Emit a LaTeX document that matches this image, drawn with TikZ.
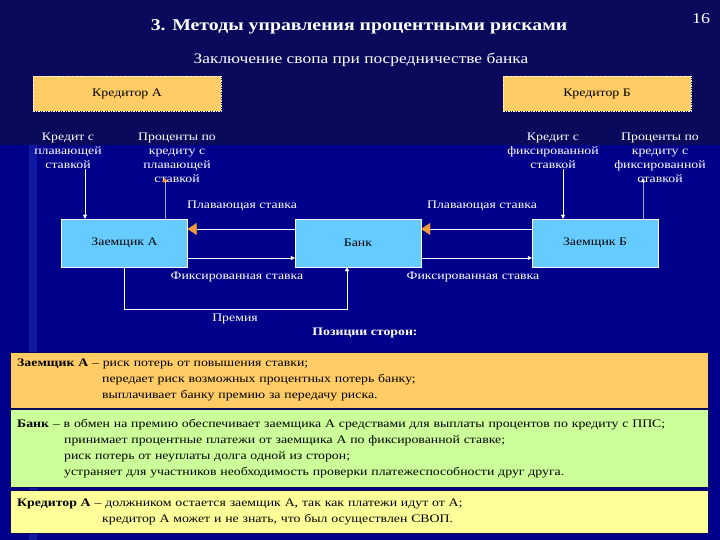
\documentclass[tikz,border=0pt]{standalone}
\usepackage{fontspec}
\setmainfont[FakeStretch=1.2]{Liberation Serif}
\usepackage{tikz}
\usetikzlibrary{calc,arrows.meta,positioning}
\definecolor{navyx}{HTML}{00008A}
\definecolor{navytop}{HTML}{0A0A5C}
\definecolor{glowx}{HTML}{2030B8}
\definecolor{orangex}{HTML}{FFCC66}
\definecolor{cyanx}{HTML}{66CCFF}
\definecolor{greenx}{HTML}{CCFF99}
\definecolor{yellowx}{HTML}{FFFF99}
\definecolor{tipx}{HTML}{F39A3A}
\tikzset{
  cred/.style={draw=white,dash pattern=on 1.5pt off 1pt,fill=orangex,minimum width=188pt,minimum height=35pt,inner sep=0pt,font=\fontsize{11.5}{13}\selectfont},
  party/.style={draw=white,fill=cyanx,minimum width=126pt,minimum height=48pt,inner sep=0pt,font=\fontsize{11.5}{13}\selectfont},
  lbl/.style={text=white,align=center,inner sep=0pt,font=\fontsize{11.5}{14}\selectfont},
  ln/.style={white,thin},
  wa/.style={-{Triangle[length=4pt,width=4pt]},white,thin},
  oa/.style={-{Triangle[length=9pt,width=12pt,color=tipx]},white,thin},
  posbox/.style={draw=navytop,rectangle,minimum width=698pt,text width=684pt,inner xsep=7pt,inner ysep=0pt,anchor=north west,align=left,font=\fontsize{11.5}{16}\selectfont}
}

\begin{document}
\begin{tikzpicture}[x=1pt,y=-1pt]
\useasboundingbox (0,0) rectangle (720,540);
% background
\fill[navyx] (0,0) rectangle (720,540);
\fill[navytop] (0,0) rectangle (720,145);
\fill[glowx,opacity=0.5] (29,145) rectangle (37,540);

% titles
\node[text=white,font=\bfseries\fontsize{16.5}{20}\selectfont] (title) at (359,27) {3. Методы управления процентными рисками};
\node[text=white,font=\fontsize{15}{18}\selectfont] (page) at (701,19) {16};
\node[text=white,font=\fontsize{14.5}{16}\selectfont] (sub) at (361,60) {Заключение свопа при посредничестве банка};

% creditors and parties
\node[cred] (credA) at (127,94) {Кредитор А};
\node[cred] (credB) at (597,94) {Кредитор Б};
\node[party] (zaemA) at (124.5,243) {Заемщик А};
\node[party] (bank) at (358,243) {Банк};
\node[party] (zaemB) at (595,243) {Заемщик Б};

\node[lbl] (crA) at (68,151) {Кредит с\\плавающей\\ставкой};
\node[lbl] (prA) at (177,158) {Проценты по\\кредиту с\\плавающей\\ставкой};
\node[lbl] (crB) at (553,151) {Кредит с\\фиксированной\\ставкой};
\node[lbl] (prB) at (660,158) {Проценты по\\кредиту с\\фиксированной\\ставкой};

% flows to and from creditors
\coordinate (inA) at ([xshift=-39.5pt]zaemA.north);
\coordinate (outA) at ([xshift=40.5pt]zaemA.north);
\coordinate (inB) at ([xshift=-32pt]zaemB.north);
\coordinate (outB) at ([xshift=48pt]zaemB.north);
\draw[wa] (inA |- crA.south) -- (inA);
\draw[-{Triangle[length=4pt,width=6pt,color=tipx]},white,thin] (outA) -- (outA |- prA.south) -- ++(0,5pt);
\draw[wa] (inB |- crB.south) -- (inB);
\draw[wa] (outB) -- (outB |- prB.south) -- ++(0,5pt);

% swap payments
\draw[oa] ([yshift=14pt]bank.west) -- ([yshift=14pt]zaemA.east);
\draw[wa] ([yshift=-15pt]zaemA.east) -- ([yshift=-15pt]bank.west);
\draw[oa] ([yshift=14pt]zaemB.west) -- ([yshift=14pt]bank.east);
\draw[wa] ([yshift=-15pt]bank.east) -- ([yshift=-15pt]zaemB.west);
\draw[wa] (zaemA.south) -- ++(0,-42pt) -| ([xshift=-11pt]bank.south);

\node[lbl] (flA) at (242,206) {Плавающая ставка};
\node[lbl] (flB) at (482,206) {Плавающая ставка};
\node[lbl] (fxA) at (237,277) {Фиксированная ставка};
\node[lbl] (fxB) at (473,277) {Фиксированная ставка};
\node[lbl] (prem) at (235,319) {Премия};
\node[lbl,font=\bfseries\fontsize{11.5}{14}\selectfont] (posT) at (365,333) {Позиции сторон:};

% positions
\node[posbox,fill=orangex,minimum height=56pt] (posA) at (10,352) {\textbf{Заемщик А} – риск потерь от повышения ставки;\\
\hspace*{85pt}передает риск возможных процентных потерь банку;\\
\hspace*{85pt}выплачивает банку премию за передачу риска.};
\node[posbox,fill=greenx,minimum height=78pt] (posBank) at (10,409) {\textbf{Банк} – в обмен на премию обеспечивает заемщика А средствами для выплаты процентов по кредиту с ППС;\\
\hspace*{47pt}принимает процентные платежи от заемщика А по фиксированной ставке;\\
\hspace*{47pt}риск потерь от неуплаты долга одной из сторон;\\
\hspace*{47pt}устраняет для участников необходимость проверки платежеспособности друг друга.};
\node[posbox,fill=yellowx,minimum height=43pt] (posCred) at (10,490) {\textbf{Кредитор А} – должником остается заемщик А, так как платежи идут от А;\\
\hspace*{85pt}кредитор А может и не знать, что был осуществлен СВОП.};
\end{tikzpicture}
\end{document}
